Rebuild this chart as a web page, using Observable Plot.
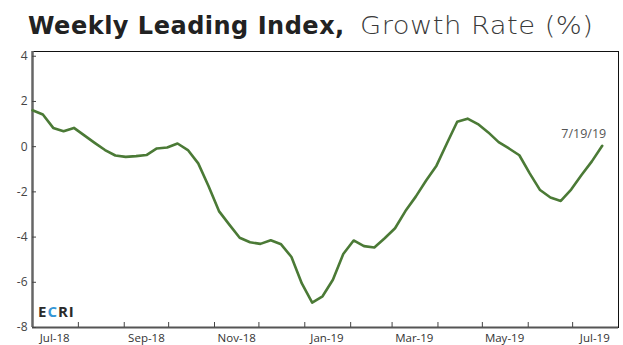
<!DOCTYPE html>
<html>
<head>
<meta charset="utf-8">
<script src="https://cdn.jsdelivr.net/npm/d3@7"></script>
<script src="https://cdn.jsdelivr.net/npm/@observablehq/plot@0.6"></script>
<style>
  html, body { margin: 0; padding: 0; background: #fff; }
  body { width: 623px; height: 345px; overflow: hidden; position: relative; font-family: "Open Sans", sans-serif; }
  .t { position: absolute; top: 14px; font-size: 24px; line-height: 24px; white-space: nowrap; font-family: "DejaVu Sans", sans-serif; }
  #t1 { left: 28px; font-weight: bold; color: #222; letter-spacing: 0.5px; }
  #t2 { left: 360px; font-weight: 300; color: #3a3a3a; letter-spacing: 0.4px; transform: scaleX(1.14); transform-origin: left center; }
  #chart { position: absolute; left: 0; top: 44px; }
  #logo { position: absolute; left: 38px; top: 301px; font: bold 15px "Open Sans", sans-serif; color: #2a2a2a; letter-spacing: 1px; }
  #logo .c { color: #3597d6; }
</style>
</head>
<body>
<div class="t" id="t1">Weekly Leading Index,</div>
<div class="t" id="t2">Growth Rate (%)</div>
<div id="chart"></div>
<div id="logo">E<span class="c">C</span>RI</div>
<script>
// Weekly Leading Index growth rate (%), weekly observations
const startDate = "2018-07-01";
const growthRate = [
  1.61, 1.42, 0.83, 0.68, 0.83, 0.50, 0.17, -0.15, -0.39, -0.45,
  -0.42, -0.37, -0.08, -0.04, 0.14, -0.15, -0.74, -1.75, -2.85, -3.45,
  -4.03, -4.23, -4.30, -4.14, -4.32, -4.88, -6.05, -6.90, -6.62, -5.89,
  -4.75, -4.15, -4.40, -4.46, -4.05, -3.61, -2.85, -2.21, -1.50, -0.84,
  0.14, 1.10, 1.24, 1.00, 0.63, 0.20, -0.08, -0.38, -1.18, -1.92,
  -2.25, -2.40, -1.90, -1.25, -0.65, 0.04
];
const annotationLabel = "7/19/19";
const xDomainDates = ["2018-07-01", "2019-08-01"];
const yDomain = [-8, 4.21];
const yTicks = [-8, -6, -4, -2, 0, 2, 4];
const monthTickDates = ["2018-08-01","2018-09-01","2018-10-01","2018-11-01","2018-12-01","2019-01-01",
  "2019-02-01","2019-03-01","2019-04-01","2019-05-01","2019-06-01","2019-07-01"];
const xLabelDates = ["2018-07-16","2018-09-16","2018-11-16","2019-01-16","2019-03-16","2019-05-16","2019-07-16"];
const xLabels = ["Jul-18","Sep-18","Nov-18","Jan-19","Mar-19","May-19","Jul-19"];

const start = new Date(startDate);
const data = growthRate.map((v, i) => ({date: d3.utcDay.offset(start, 7 * i), value: v}));
const xDomain = xDomainDates.map(d => new Date(d));
const labelMap = new Map(xLabelDates.map((d, i) => [+new Date(d), xLabels[i]]));

const plot = Plot.plot({
  width: 623,
  height: 301,
  marginTop: 7,
  marginBottom: 18,
  marginLeft: 32,
  marginRight: 5,
  style: {fontFamily: "'Open Sans', sans-serif", background: "transparent"},
  x: {type: "utc", domain: xDomain},
  y: {domain: yDomain},
  marks: [
    Plot.frame({stroke: "#111", strokeWidth: 1}),
    Plot.ruleX([xDomain[0]], {stroke: "#666", strokeWidth: 2.5}),
    Plot.ruleY([yDomain[0]], {stroke: "#555", strokeWidth: 2}),
    Plot.axisY(yTicks, {tickSize: -4, tickPadding: 9, tickFormat: d => String(d), fontSize: 12, fill: "#444", stroke: "#444", label: null}),
    Plot.axisX(monthTickDates.map(d => new Date(d)), {tickSize: -5, tickFormat: () => "", stroke: "#444", label: null}),
    Plot.axisX(xLabelDates.map(d => new Date(d)), {tickSize: 0, tickPadding: 6, tickFormat: d => labelMap.get(+d), fontSize: 11.5, fill: "#333", label: null}),
    Plot.line(data, {x: "date", y: "value", stroke: "#4b7a36", strokeWidth: 2.6, strokeLinejoin: "round"}),
    Plot.text([data[data.length - 1]], {x: "date", y: "value", text: () => annotationLabel, textAnchor: "end", dx: 4, dy: -12, fontSize: 12.5, fill: "#555"})
  ]
});
document.getElementById("chart").append(plot);
</script>
</body>
</html>
